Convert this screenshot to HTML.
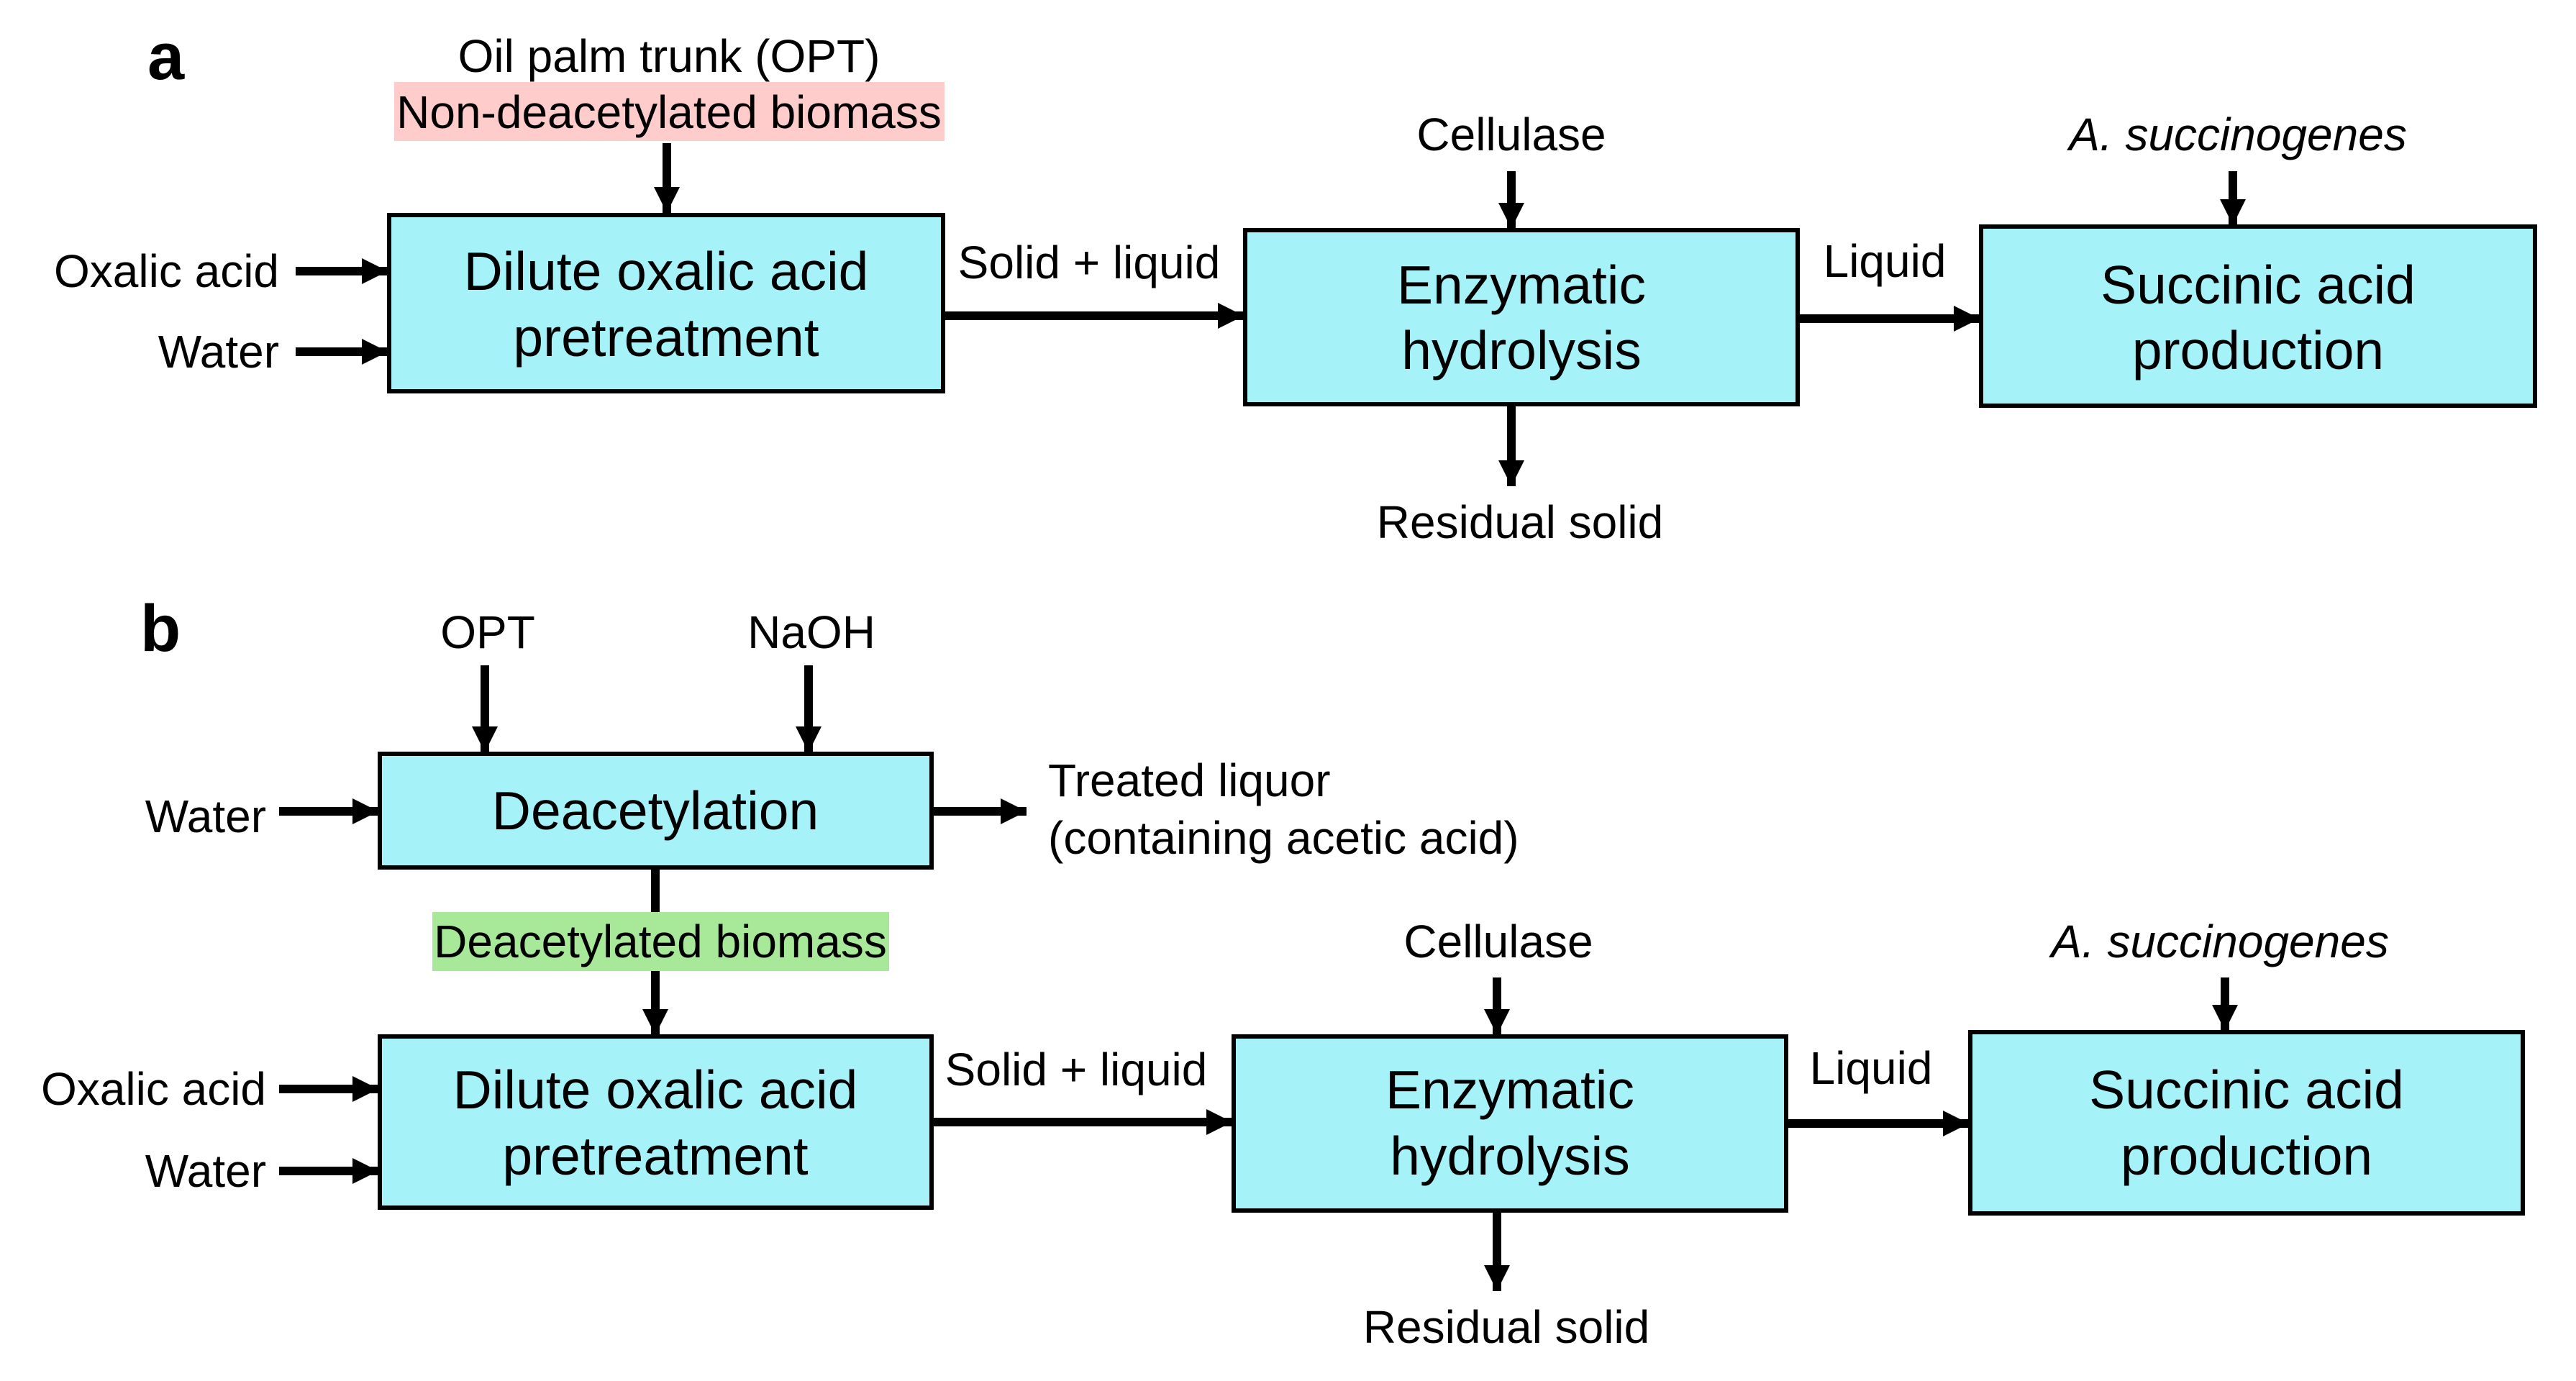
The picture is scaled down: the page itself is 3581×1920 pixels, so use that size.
<!DOCTYPE html>
<html><head><meta charset="utf-8"><style>
html,body{margin:0;padding:0;background:#fff;}
svg{display:block;}
text{font-family:"Liberation Sans",Arial,sans-serif;fill:#000;}
.l{font-size:64px;}
.bx{font-size:75px;}
.it{font-style:italic;}
</style></head><body>
<svg width="3581" height="1920" viewBox="0 0 3581 1920" xmlns="http://www.w3.org/2000/svg">
<defs>
<marker id="ah" markerUnits="userSpaceOnUse" markerWidth="38" markerHeight="38" refX="36" refY="18" orient="auto"><path d="M0,0 L36,18 L0,36 Z" fill="#000"/></marker>
</defs>
<g stroke="#000" stroke-width="6" fill="#a5f3f9">
<rect x="541" y="299" width="770" height="245"/>
<rect x="1731" y="320" width="768" height="242"/>
<rect x="2754" y="315" width="770" height="249"/>
<rect x="528" y="1048" width="767" height="158"/>
<rect x="528" y="1441" width="767" height="238"/>
<rect x="1715" y="1441" width="768" height="242"/>
<rect x="2739" y="1435" width="768" height="252"/>
</g>
<rect x="548" y="114" width="765" height="82" fill="#ffcccc"/>
<rect x="601" y="1268" width="635" height="82" fill="#a8e899"/>
<g stroke="#000" stroke-width="12" marker-end="url(#ah)">
<line x1="927" y1="199" x2="927" y2="296"/>
<line x1="411" y1="377" x2="539" y2="377"/>
<line x1="411" y1="489" x2="539" y2="489"/>
<line x1="1314" y1="439" x2="1729" y2="439"/>
<line x1="2101" y1="238" x2="2101" y2="318"/>
<line x1="2101" y1="565" x2="2101" y2="676"/>
<line x1="2502" y1="443" x2="2752" y2="443"/>
<line x1="3104" y1="238" x2="3104" y2="313"/>
<line x1="674" y1="925" x2="674" y2="1046"/>
<line x1="1124" y1="925" x2="1124" y2="1046"/>
<line x1="388" y1="1128" x2="526" y2="1128"/>
<line x1="1298" y1="1128" x2="1427" y2="1128"/>
<line x1="911" y1="1350" x2="911" y2="1439"/>
<line x1="388" y1="1514" x2="526" y2="1514"/>
<line x1="388" y1="1628" x2="526" y2="1628"/>
<line x1="1298" y1="1560" x2="1713" y2="1560"/>
<line x1="2081" y1="1359" x2="2081" y2="1439"/>
<line x1="2081" y1="1686" x2="2081" y2="1795"/>
<line x1="2486" y1="1562" x2="2737" y2="1562"/>
<line x1="3093" y1="1359" x2="3093" y2="1433"/>
</g>
<line x1="911" y1="1206" x2="911" y2="1268" stroke="#000" stroke-width="12"/>
<text x="205" y="110" font-size="92" font-weight="bold">a</text>
<text x="195" y="905" font-size="92" font-weight="bold">b</text>
<g class="l" text-anchor="middle">
<text x="930" y="100">Oil palm trunk (OPT)</text>
<text x="930" y="178">Non-deacetylated biomass</text>
<text x="1514" y="387">Solid + liquid</text>
<text x="2101" y="209">Cellulase</text>
<text x="3111" y="209" class="it">A. succinogenes</text>
<text x="2620" y="385">Liquid</text>
<text x="2113" y="748">Residual solid</text>
<text x="678" y="901">OPT</text>
<text x="1128" y="901">NaOH</text>
<text x="918" y="1331">Deacetylated biomass</text>
<text x="1496" y="1509">Solid + liquid</text>
<text x="2083" y="1331">Cellulase</text>
<text x="3086" y="1331" class="it">A. succinogenes</text>
<text x="2601" y="1507">Liquid</text>
<text x="2094" y="1867">Residual solid</text>
</g>
<g class="l" text-anchor="end">
<text x="388" y="399">Oxalic acid</text>
<text x="388" y="511">Water</text>
<text x="370" y="1157">Water</text>
<text x="370" y="1536">Oxalic acid</text>
<text x="370" y="1650">Water</text>
</g>
<g class="l">
<text x="1457" y="1107">Treated liquor</text>
<text x="1457" y="1187">(containing acetic acid)</text>
</g>
<g class="bx" text-anchor="middle">
<text x="926" y="403">Dilute oxalic acid</text>
<text x="926" y="495">pretreatment</text>
<text x="2115" y="422">Enzymatic</text>
<text x="2115" y="513">hydrolysis</text>
<text x="3139" y="422">Succinic acid</text>
<text x="3139" y="513">production</text>
<text x="911" y="1153">Deacetylation</text>
<text x="911" y="1541">Dilute oxalic acid</text>
<text x="911" y="1633">pretreatment</text>
<text x="2099" y="1541">Enzymatic</text>
<text x="2099" y="1633">hydrolysis</text>
<text x="3123" y="1541">Succinic acid</text>
<text x="3123" y="1633">production</text>
</g>
</svg>
</body></html>
